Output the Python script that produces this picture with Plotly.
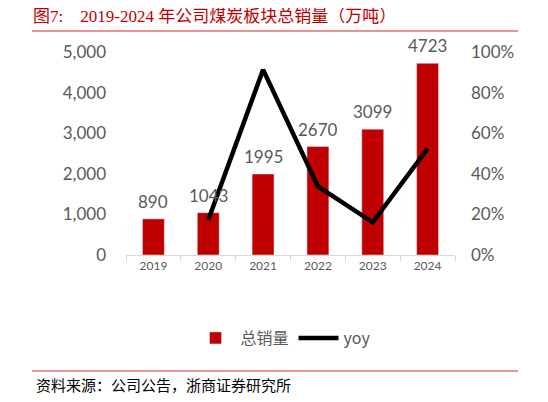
import plotly.graph_objects as go

# data
years = ["2019", "2020", "2021", "2022", "2023", "2024"]
sales = [890, 1043, 1995, 2670, 3099, 4723]
yoy_years = ["2020", "2021", "2022", "2023", "2024"]
yoy = [0.172, 0.913, 0.338, 0.161, 0.524]
left_ticks = [0, 1000, 2000, 3000, 4000, 5000]
right_ticks = [0, 0.2, 0.4, 0.6, 0.8, 1.0]

num_font = "Lato, Liberation Sans, sans-serif"
cjk_font = "Noto Sans CJK SC"

# page body has an 8px margin, so figure coords = reference px - 8
OFF = 8
L, R, T, B = 126 - OFF, 455 - OFF, 52 - OFF, 255 - OFF
W, H = 548, 402

def px_x(p):
    return (p - OFF - L) / (R - L)

def px_y(p):
    return (B - (p - OFF)) / (B - T)

fig = go.Figure()

fig.add_trace(go.Bar(
    x=years, y=sales, name="总销量",
    marker=dict(color="#c00000"), width=0.4,
))

fig.add_trace(go.Scatter(
    x=yoy_years, y=yoy, name="yoy", yaxis="y2", mode="lines",
    line=dict(color="black", width=4.5),
))

# value labels above bars (x given as category index)
for i, v in enumerate(sales):
    fig.add_annotation(
        x=i, y=v, xref="x", yref="y", text=str(v),
        showarrow=False, yanchor="bottom", yshift=5,
        font=dict(size=17, color="#595959", family=num_font),
    )

fig.update_layout(
    width=W, height=H,
    margin=dict(l=L, r=W - R, t=T, b=H - B),
    plot_bgcolor="white", paper_bgcolor="white",
    showlegend=True,
    title=dict(
        text="图7:    2019-2024 年公司煤炭板块总销量（万吨）",
        x=(33 - OFF) / W, xanchor="left", xref="container",
        y=1 - (16 - OFF) / H, yanchor="middle", yref="container",
        font=dict(size=17, color="#c00000", family="Liberation Serif, " + cjk_font),
    ),
    xaxis=dict(
        type="category", categoryorder="array", categoryarray=years,
        range=[-0.5, len(years) - 0.5], showgrid=False,
        showline=True, linecolor="#d9d9d9", linewidth=1,
        ticks="outside", tickson="boundaries", ticklen=5, tickcolor="#d9d9d9",
        tickfont=dict(size=12, color="#595959", family=num_font),
    ),
    yaxis=dict(
        range=[0, 5000], tickvals=left_ticks, tickformat=",d",
        showgrid=False, zeroline=False, showline=False,
        tickfont=dict(size=17, color="#595959", family=num_font),
        ticklabelstandoff=19,
    ),
    yaxis2=dict(
        range=[0, 1.0], tickvals=right_ticks, tickformat=".0%",
        overlaying="y", side="right",
        showgrid=False, zeroline=False, showline=False,
        tickfont=dict(size=17, color="#595959", family=num_font),
        ticklabelstandoff=15,
    ),
    legend=dict(
        orientation="h", x=px_x(283), xanchor="center",
        y=px_y(338), yanchor="middle",
        font=dict(size=16, color="#595959", family=cjk_font + ", " + num_font),
        itemwidth=40,
    ),
)

# red rules above and below
for yy in (31, 371):
    fig.add_shape(type="line", xref="paper", yref="paper",
                  x0=px_x(32), x1=px_x(518), y0=px_y(yy), y1=px_y(yy),
                  line=dict(color="#e07070", width=1.5))

fig.add_annotation(
    text="资料来源：公司公告，浙商证券研究所",
    xref="paper", yref="paper", x=px_x(34), y=px_y(384),
    xanchor="left", yanchor="middle", showarrow=False,
    font=dict(size=15, color="black", family=cjk_font),
)

fig.write_html("out.html")
